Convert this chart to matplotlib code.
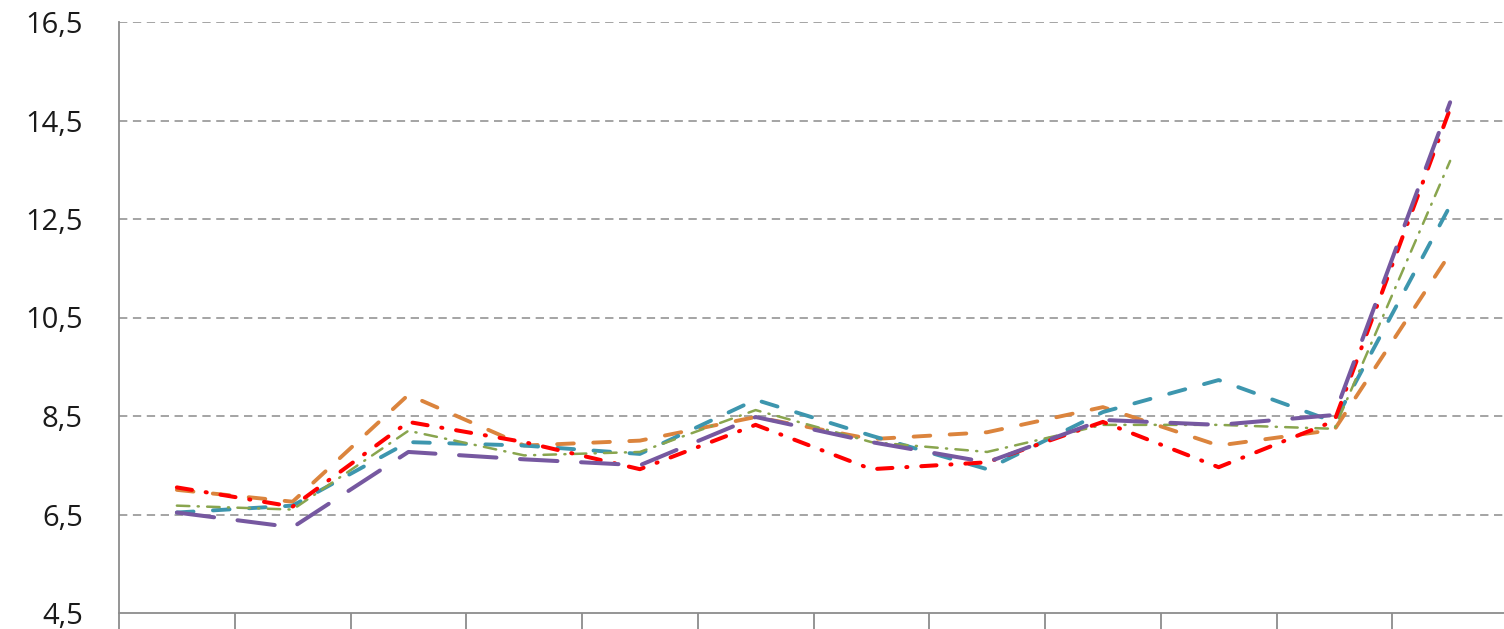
import matplotlib
matplotlib.use("Agg")
import matplotlib.pyplot as plt
import numpy as np

categories = [str(i) for i in range(1, 13)]
red_vals    = [7.05, 6.66, 8.38, 7.97, 7.42, 8.32, 7.42, 7.56, 8.38, 7.46, 8.40, 14.74]
orange_vals = [7.00, 6.76, 8.93, 7.90, 8.00, 8.48, 8.03, 8.17, 8.68, 7.90, 8.22, 11.80]
green_vals  = [6.68, 6.60, 8.20, 7.70, 7.77, 8.62, 7.97, 7.77, 8.32, 8.32, 8.24, 13.68]
teal_vals   = [6.54, 6.68, 7.97, 7.90, 7.73, 8.83, 8.10, 7.42, 8.58, 9.23, 8.38, 12.77]
purple_vals = [6.54, 6.24, 7.77, 7.62, 7.50, 8.48, 7.97, 7.56, 8.42, 8.32, 8.52, 14.87]
y_ticks = [4.5, 6.5, 8.5, 10.5, 12.5, 14.5, 16.5]
y_labels = ["4,5", "6,5", "8,5", "10,5", "12,5", "14,5", "16,5"]

plt.rcParams['font.family'] = ['Open Sans', 'DejaVu Sans']
plt.rcParams['lines.scale_dashes'] = False

fig = plt.figure(figsize=(15.04, 6.29), dpi=100)
ax = fig.add_axes([119/1504, 1-613/629, (1508-119)/1504, (613-22)/629])

x = np.arange(len(categories))
styles = [
    (orange_vals, '#DB843D', 2.8, (0, (12, 14))),
    (teal_vals,   '#3D96AE', 2.8, (0, (12, 14))),
    (green_vals,  '#89A54E', 1.8, (0, (9, 6, 0.8, 6))),
    (red_vals,    '#FF0000', 2.9, (0, (11, 10, 0.8, 10))),
    (purple_vals, '#7658A0', 2.9, (0, (27, 17))),
]
for vals, c, lw, ls in styles:
    ax.plot(x, vals, color=c, lw=lw, linestyle=ls, dash_capstyle='round', clip_on=False, zorder=3)

ax.set_xlim(-0.5, 11.5)
ax.set_ylim(4.5, 16.5)
ax.set_yticks(y_ticks)
ax.set_yticklabels(y_labels, fontsize=21, color='#1a1a1a')
ax.tick_params(axis='y', length=0, pad=26)
ax.set_xticks(x)
ax.set_xticklabels([''] * len(categories))
ax.tick_params(axis='x', which='major', length=0)
ax.set_xticks(np.arange(-0.5, 12, 1), minor=True)
ax.tick_params(axis='x', which='minor', length=14, width=1.3, color='#8c8c8c', direction='out')

for yv in y_ticks[1:]:
    ax.axhline(yv, color='#8c8c8c', lw=1.1, linestyle=(0, (6, 4)), zorder=1)

for s in ['top', 'right']:
    ax.spines[s].set_visible(False)
for s in ['left', 'bottom']:
    ax.spines[s].set_color('#8c8c8c')
    ax.spines[s].set_linewidth(1.3)

fig.savefig('out.png', dpi=100)
